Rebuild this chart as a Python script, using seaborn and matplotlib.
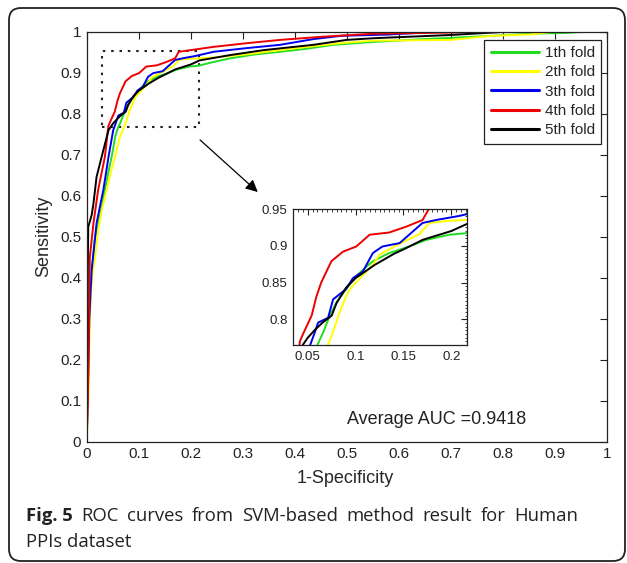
import matplotlib
matplotlib.use("Agg")
import matplotlib.pyplot as plt
from matplotlib.patches import Rectangle, FancyBboxPatch
from matplotlib.transforms import IdentityTransform
from matplotlib.ticker import MultipleLocator
import seaborn as sns
import pandas as pd

# --- data ---
fold_names = ["1th fold", "2th fold", "3th fold", "4th fold", "5th fold"]
fold_colors = ["#22dd22", "#ffff00", "#0000ee", "#ee0000", "#000000"]

fpr_1 = [0, 0.002, 0.005, 0.010, 0.016, 0.022, 0.030, 0.035, 0.042, 0.048, 0.055, 0.060, 0.066,
         0.073, 0.080, 0.090, 0.100, 0.110, 0.118, 0.135, 0.156, 0.174, 0.198, 0.215, 0.240,
         0.276, 0.320, 0.372, 0.420, 0.475, 0.55, 0.65, 0.75, 0.85, 0.92, 0.96, 1.0]
tpr_1 = [0, 0.10, 0.30, 0.42, 0.50, 0.53, 0.58, 0.614, 0.66, 0.695, 0.745, 0.765, 0.782,
         0.805, 0.823, 0.841, 0.858, 0.870, 0.879, 0.890, 0.899, 0.908, 0.915, 0.917, 0.925,
         0.935, 0.944, 0.951, 0.958, 0.968, 0.975, 0.982, 0.988, 0.995, 0.997, 1.0, 1.0]

fpr_2 = [0, 0.003, 0.006, 0.010, 0.016, 0.022, 0.030, 0.0385, 0.046, 0.0545, 0.064, 0.071,
         0.077, 0.082, 0.090, 0.094, 0.104, 0.118, 0.125, 0.142, 0.167, 0.177, 0.198, 0.215,
         0.244, 0.308, 0.404, 0.488, 0.55, 0.70, 0.78, 0.85, 0.90, 1.0]
tpr_2 = [0, 0.10, 0.30, 0.40, 0.45, 0.516, 0.57, 0.614, 0.655, 0.695, 0.744, 0.765,
         0.785, 0.805, 0.831, 0.841, 0.855, 0.874, 0.888, 0.900, 0.916, 0.931, 0.934, 0.935,
         0.937, 0.945, 0.960, 0.972, 0.978, 0.980, 0.990, 0.993, 1.0, 1.0]

fpr_3 = [0, 0.002, 0.005, 0.0096, 0.019, 0.032, 0.042, 0.051, 0.0556, 0.0608, 0.0712, 0.0764,
         0.090, 0.0972, 0.1076, 0.118, 0.128, 0.146, 0.156, 0.170, 0.184, 0.208, 0.244, 0.308,
         0.372, 0.436, 0.49, 0.58, 0.68, 0.80, 1.0]
tpr_3 = [0, 0.12, 0.30, 0.419, 0.533, 0.614, 0.695, 0.76, 0.776, 0.7955, 0.802, 0.827,
         0.841, 0.856, 0.865, 0.890, 0.899, 0.9036, 0.915, 0.931, 0.935, 0.9405, 0.951, 0.960,
         0.968, 0.982, 0.990, 0.993, 1.0, 1.0, 1.0]

fpr_4 = [0, 0.003, 0.006, 0.013, 0.022, 0.035, 0.0417, 0.045, 0.054, 0.059, 0.064, 0.0747,
         0.0868, 0.1007, 0.1146, 0.135, 0.153, 0.170, 0.177, 0.244, 0.308, 0.372, 0.456,
         0.55, 0.65, 0.80, 1.0]
tpr_4 = [0, 0.15, 0.45, 0.533, 0.614, 0.695, 0.770, 0.780, 0.805, 0.831, 0.850, 0.879,
         0.892, 0.899, 0.915, 0.918, 0.926, 0.935, 0.951, 0.963, 0.972, 0.980, 0.988,
         0.995, 0.997, 1.0, 1.0]

fpr_5 = [0, 0.0, 0.002, 0.003, 0.0096, 0.013, 0.019, 0.032, 0.042, 0.050, 0.057, 0.065, 0.075,
         0.080, 0.090, 0.100, 0.120, 0.140, 0.150, 0.170, 0.200, 0.217, 0.276, 0.34, 0.436,
         0.50, 0.55, 0.70, 0.81, 1.0]
tpr_5 = [0, 0.05, 0.42, 0.524, 0.553, 0.581, 0.646, 0.711, 0.760, 0.775, 0.785, 0.795, 0.805,
         0.822, 0.843, 0.856, 0.874, 0.889, 0.895, 0.908, 0.920, 0.930, 0.943, 0.955, 0.968,
         0.980, 0.984, 0.992, 1.0, 1.0]

main_ticks = [0, 0.1, 0.2, 0.3, 0.4, 0.5, 0.6, 0.7, 0.8, 0.9, 1]
main_ticklabels = ["0", "0.1", "0.2", "0.3", "0.4", "0.5", "0.6", "0.7", "0.8", "0.9", "1"]
inset_xticks = [0.05, 0.1, 0.15, 0.2]
inset_xticklabels = ["0.05", "0.1", "0.15", "0.2"]
inset_yticks = [0.8, 0.85, 0.9, 0.95]
inset_yticklabels = ["0.8", "0.85", "0.9", "0.95"]
inset_xlim = (0.0345, 0.2165)
inset_ylim = (0.765, 0.95)

auc_text = "Average AUC =0.9418"
caption_bold = "Fig. 5"
caption_line1 = "ROC curves from SVM-based method result for Human"
caption_line2 = "PPIs dataset"

# --- long table for seaborn ---
fprs = [fpr_1, fpr_2, fpr_3, fpr_4, fpr_5]
tprs = [tpr_1, tpr_2, tpr_3, tpr_4, tpr_5]
frames = []
for name, xs, ys in zip(fold_names, fprs, tprs):
    frames.append(pd.DataFrame({"fpr": xs, "tpr": ys, "fold": name}))
df = pd.concat(frames, ignore_index=True)
palette = dict(zip(fold_names, fold_colors))

sns.set_style("white")
plt.rcParams["font.family"] = ["Liberation Sans", "DejaVu Sans"]

W, H = 627, 563
fig = plt.figure(figsize=(W / 100, H / 100), dpi=100)

# outer rounded frame (pixel coords)
frame = FancyBboxPatch((9, 2), 616, 553, boxstyle="round,pad=0,rounding_size=12",
                       transform=IdentityTransform(), fill=False, lw=1.3, ec="#222222")
fig.patches.append(frame)

# --- main axes ---
ax = fig.add_axes([86.7 / W, 1 - 441.7 / H, 520 / W, 410 / H])
sns.lineplot(data=df, x="fpr", y="tpr", hue="fold", hue_order=fold_names, palette=palette,
             sort=False, estimator=None, lw=1.4, legend=False, ax=ax)
ax.set_xlim(0, 1)
ax.set_ylim(0, 1)
ax.set_xticks(main_ticks)
ax.set_xticklabels(main_ticklabels)
ax.set_yticks(main_ticks)
ax.set_yticklabels(main_ticklabels)
ax.tick_params(direction="in", top=True, right=True, length=5, width=0.8,
               labelsize=11, colors="#222222", pad=4)
for s in ax.spines.values():
    s.set_linewidth(0.9)
    s.set_color("#222222")
ax.set_xlabel("1-Specificity", fontsize=13)
ax.set_ylabel("Sensitivity", fontsize=13)
ax.xaxis.set_label_coords(0.497, -0.069)
ax.yaxis.set_label_coords(-0.067, 0.5)

# zoom box + arrow
ax.add_patch(Rectangle((0.029, 0.767), 0.187, 0.187, fill=False, ec="#222222",
                       lw=1.5, ls=(0, (1.2, 2.8))))
ax.annotate("", xy=(0.329, 0.609), xytext=(0.218, 0.736),
            arrowprops=dict(arrowstyle="-|>", color="k", lw=0.9, mutation_scale=18,
                            shrinkA=0, shrinkB=0))
ax.text(0.50, 0.053, auc_text, fontsize=13, ha="left", va="center", color="#222222")

leg = ax.legend(ax.lines[:5], fold_names, loc="upper right", bbox_to_anchor=(0.989, 0.980),
                borderaxespad=0, fontsize=11, handlelength=3.2, handletextpad=0.35,
                labelspacing=0.35, borderpad=0.4, fancybox=False, framealpha=1,
                edgecolor="#222222")
leg.get_frame().set_linewidth(0.9)
for h in leg.get_lines():
    h.set_linewidth(2.2)

# --- inset ---
ins = fig.add_axes([293 / W, 1 - 345 / H, 174 / W, 136 / H])
sns.lineplot(data=df, x="fpr", y="tpr", hue="fold", hue_order=fold_names, palette=palette,
             sort=False, estimator=None, lw=1.4, legend=False, ax=ins)
ins.set_xlim(*inset_xlim)
ins.set_ylim(*inset_ylim)
ins.set_xticks(inset_xticks)
ins.set_xticklabels(inset_xticklabels)
ins.set_yticks(inset_yticks)
ins.set_yticklabels(inset_yticklabels)
ins.xaxis.set_minor_locator(MultipleLocator(0.005))
ins.yaxis.set_minor_locator(MultipleLocator(0.005))
ins.tick_params(which="both", direction="in", top=True, right=True, colors="#222222")
ins.tick_params(which="major", length=4, width=0.8, labelsize=9.5, pad=4)
ins.tick_params(which="minor", length=1.8, width=0.6)
ins.set_xlabel("")
ins.set_ylabel("")
for s in ins.spines.values():
    s.set_linewidth(0.9)
    s.set_color("#222222")

# --- caption, first line justified ---
cap_font = ["Open Sans", "DejaVu Sans"]
renderer = fig.canvas.get_renderer()
x0, x1 = 26, 578
y_line1, y_line2 = 563 - 520.7, 563 - 546.7
t_bold = fig.text(x0, y_line1, caption_bold, fontsize=13.3, weight="bold", family=cap_font,
                  transform=IdentityTransform(), va="baseline", color="#222222")
w_bold = t_bold.get_window_extent(renderer).width
words = caption_line1.split()
texts = [fig.text(0, y_line1, w, fontsize=13.3, family=cap_font, transform=IdentityTransform(),
                  va="baseline", color="#222222") for w in words]
widths = [t.get_window_extent(renderer).width for t in texts]
gap = (x1 - x0 - w_bold - sum(widths)) / len(words)
cx = x0 + w_bold + gap
for t, w in zip(texts, widths):
    t.set_x(cx)
    cx += w + gap
fig.text(x0, y_line2, caption_line2, fontsize=13.3, family=cap_font,
         transform=IdentityTransform(), va="baseline", color="#222222")

fig.savefig("out.png", dpi=100)
